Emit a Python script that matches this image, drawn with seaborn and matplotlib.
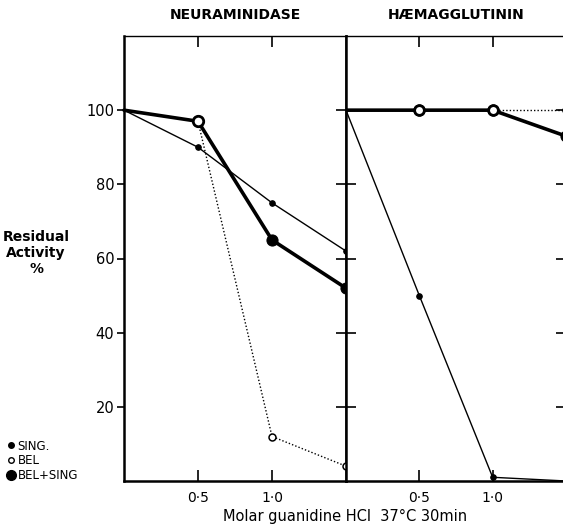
import matplotlib
matplotlib.use('Agg')
import matplotlib.pyplot as plt
from matplotlib.lines import Line2D
import seaborn as sns
import pandas as pd

# molar guanidine HCl
conc = [0, 0.5, 1.0, 1.5]

# residual activity %, neuraminidase
neur_sing = [100, 90, 75, 62]
neur_bel = [100, 97, 12, 4]
neur_bel_sing = [100, 97, 65, 52]

# residual activity %, haemagglutinin
haem_sing = [100, 50, 1, 0]
haem_bel = [100, 100, 100, 100]
haem_bel_sing = [100, 100, 100, 93]

y_ticks = [20, 40, 60, 80, 100]
x_ticks = [0.5, 1.0]
x_tick_labels = ['0·5', '1·0']
titles = ['NEURAMINIDASE', 'HÆMAGGLUTININ']

sns.set_style('ticks')
plt.rcParams['font.family'] = ['DejaVu Sans']
for key in ['text.color', 'axes.labelcolor', 'xtick.color', 'ytick.color', 'axes.edgecolor']:
    plt.rcParams[key] = 'black'

fig = plt.figure(figsize=(5.63, 5.26), dpi=100)
ax1 = fig.add_axes([124 / 563, 45 / 526, 222 / 563, 445 / 526])
ax2 = fig.add_axes([346 / 563, 45 / 526, 220 / 563, 445 / 526])


def draw_panel(ax, sing, bel, bel_sing, clip):
    df = pd.DataFrame({'conc': conc, 'sing': sing, 'bel': bel, 'bel_sing': bel_sing})
    sns.lineplot(data=df, x='conc', y='bel', ax=ax, color='black', lw=1.0,
                 linestyle=(0, (1, 1.5)), marker='o', markersize=5, mfc='white',
                 mec='black', mew=1.1, markevery=[1, 2, 3], clip_on=clip, zorder=3)
    sns.lineplot(data=df, x='conc', y='sing', ax=ax, color='black', lw=1.0,
                 marker='o', markersize=4, mfc='black', mec='black',
                 markevery=[1, 2, 3], clip_on=clip, zorder=4)
    sns.lineplot(data=df, x='conc', y='bel_sing', ax=ax, color='black', lw=2.6,
                 marker='o', markersize=8, mfc='black', mec='black',
                 markevery=[1, 2, 3], clip_on=clip, zorder=5)
    ax.set_xlim(0, 1.5)
    ax.set_ylim(0, 120)
    ax.set_xlabel('')
    ax.set_ylabel('')
    ax.set_xticks(x_ticks)
    ax.set_xticklabels(x_tick_labels, fontsize=10)
    ax.tick_params(axis='x', which='both', direction='in', length=8, width=1.2,
                   top=True, bottom=True, pad=7)
    for side in ['left', 'bottom', 'right']:
        ax.spines[side].set_linewidth(1.8)
    ax.spines['top'].set_linewidth(1.0)


draw_panel(ax1, neur_sing, neur_bel, neur_bel_sing, False)
draw_panel(ax2, haem_sing, haem_bel, haem_bel_sing, True)

# thick open BEL rings where they sit on the BEL+SING line
ax1.plot(conc[1:2], neur_bel[1:2], 'o', ms=7.5, mfc='white', mec='black', mew=2.0, zorder=6)
ax2.plot(conc[1:3], haem_bel[1:3], 'o', ms=7, mfc='white', mec='black', mew=2.0, zorder=6)

ax1.set_yticks(y_ticks)
ax1.set_yticklabels([str(v) for v in y_ticks], fontsize=10.5)
ax1.tick_params(axis='y', direction='out', length=5, width=1.2, right=False, pad=2)

ax2.set_yticks(y_ticks)
ax2.tick_params(axis='y', which='both', direction='inout', length=14, width=1.2,
                labelleft=False, left=True, right=True)

ax1.set_title(titles[0], fontsize=10, fontweight='bold', pad=12)
ax2.set_title(titles[1], fontsize=10, fontweight='bold', pad=12)

fig.text(345 / 563, 0.004, 'Molar guanidine HCl  37°C 30min', ha='center',
         va='bottom', fontsize=10.5)
fig.text(36 / 563, 1 - 253 / 526, 'Residual\nActivity\n%', ha='center', va='center',
         fontsize=10, fontweight='bold', linespacing=1.15)

handles = [
    Line2D([], [], ls='none', marker='o', ms=4, mfc='black', mec='black'),
    Line2D([], [], ls='none', marker='o', ms=4, mfc='white', mec='black', mew=1.0),
    Line2D([], [], ls='none', marker='o', ms=7, mfc='black', mec='black'),
]
fig.legend(handles, ['SING.', 'BEL', 'BEL+SING'], loc='lower left',
           bbox_to_anchor=(0.0, 0.07), frameon=False, handlelength=0.6,
           handletextpad=0.3, labelspacing=0.15, fontsize=8.5, borderaxespad=0.2)

fig.savefig('out.png', dpi=100)
